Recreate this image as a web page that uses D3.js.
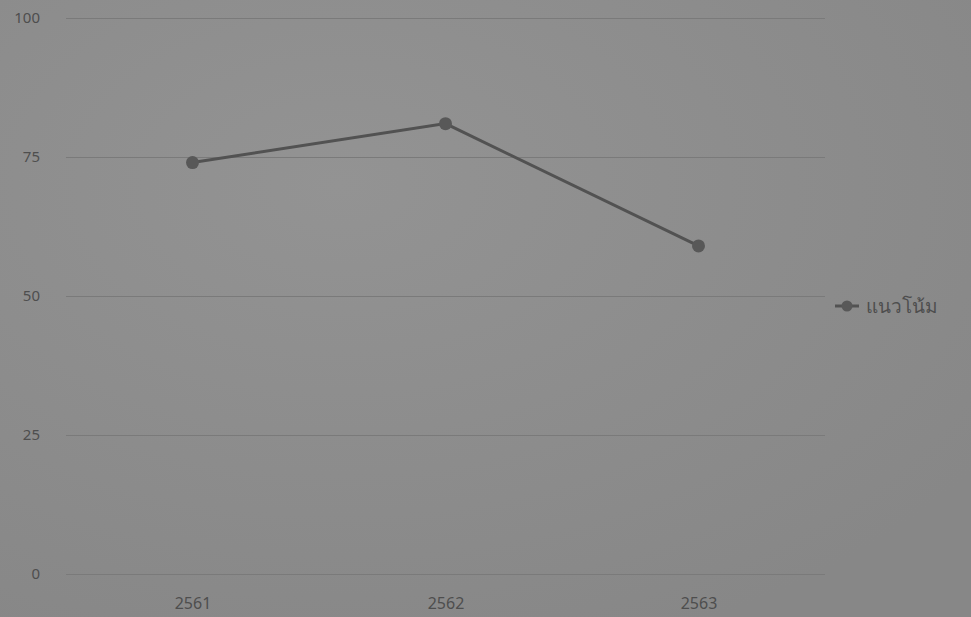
<!DOCTYPE html>
<html>
<head>
<meta charset="utf-8">
<title>แนวโน้ม</title>
<script src="https://d3js.org/d3.v7.min.js"></script>
<style>
  body { margin: 0; background: #8d8d8d; }
  #chart { display: block; }
  text { font-family: "Noto Sans", "Open Sans", "DejaVu Sans", sans-serif; fill: #4e4e4e; }
</style>
</head>
<body>
<svg id="chart" width="971" height="617"></svg>
<script>
// data
let years = ["2561", "2562", "2563"];
let trendValues = [74, 81, 59];
let yTicks = [0, 25, 50, 75, 100];
let seriesName = "แนวโน้ม";

let svg = d3.select("#chart");
let W = 971, H = 617;
let margin = {top: 18, right: 146, bottom: 43, left: 66};

// soft photo-like background
let defs = svg.append("defs");
let grad = defs.append("radialGradient").attr("id", "bg")
    .attr("cx", "35%").attr("cy", "30%").attr("r", "80%");
grad.append("stop").attr("offset", "0%").attr("stop-color", "#939393");
grad.append("stop").attr("offset", "100%").attr("stop-color", "#878787");
svg.append("rect").attr("width", W).attr("height", H).attr("fill", "url(#bg)");

let x = d3.scalePoint()
    .domain(years)
    .range([margin.left, W - margin.right])
    .padding(0.5);

let y = d3.scaleLinear()
    .domain([0, 100])
    .range([H - margin.bottom, margin.top]);

// grid lines + y labels
let yAxis = d3.axisLeft(y)
    .tickValues(yTicks)
    .tickSize(-(W - margin.right - margin.left))
    .tickPadding(26);

let gy = svg.append("g")
    .attr("transform", `translate(${margin.left},0)`)
    .call(yAxis);
gy.select(".domain").remove();
gy.selectAll(".tick line").attr("stroke", "#7a7a7a").attr("stroke-width", 1.2);
gy.selectAll(".tick text").attr("font-size", 15).attr("fill", "#555");

// x labels
let gx = svg.append("g")
    .attr("transform", `translate(0,${H - margin.bottom})`)
    .call(d3.axisBottom(x).tickSize(0).tickPadding(24));
gx.select(".domain").remove();
gx.selectAll(".tick text").attr("font-size", 16).attr("fill", "#555");

// the trend line
let pts = years.map((d, i) => ({year: d, v: trendValues[i]}));

svg.append("path")
    .datum(pts)
    .attr("fill", "none")
    .attr("stroke", "#525252")
    .attr("stroke-width", 3)
    .attr("d", d3.line().x(d => x(d.year)).y(d => y(d.v)));

svg.selectAll("circle.pt")
    .data(pts)
    .join("circle")
    .attr("class", "pt")
    .attr("cx", d => x(d.year))
    .attr("cy", d => y(d.v))
    .attr("r", 6.5)
    .attr("fill", "#585858");

// legend
let lg = svg.append("g").attr("transform", `translate(835,${y(50) + 10})`);
lg.append("line").attr("x1", 0).attr("x2", 24)
    .attr("stroke", "#525252").attr("stroke-width", 3);
lg.append("circle").attr("cx", 12).attr("r", 5.5).attr("fill", "#585858");
lg.append("text").attr("x", 31).attr("dy", "0.35em")
    .attr("font-size", 19).attr("fill", "#444")
    .text(seriesName);
</script>
</body>
</html>
